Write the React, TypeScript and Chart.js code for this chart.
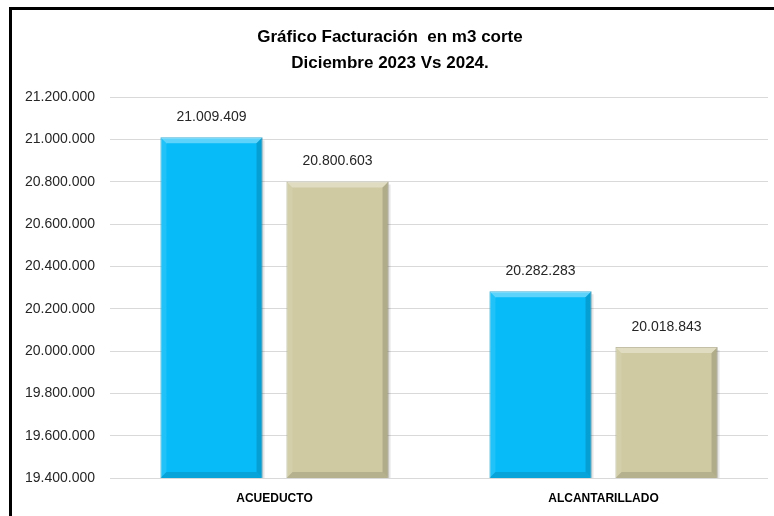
import React, { useEffect, useRef } from "react";
import { Chart, registerables } from "chart.js";

Chart.register(...registerables);

const categories = ["ACUEDUCTO", "ALCANTARILLADO"];
const series2023 = [21009409, 20282283];
const series2024 = [20800603, 20018843];
const seriesNames = ["2023", "2024"];
const titleLines = ["Gráfico Facturación  en m3 corte", "Diciembre 2023 Vs 2024."];
const yMin = 19400000;
const yMax = 21200000;
const yStep = 200000;

const fmt = (n: number) => Math.round(n).toString().replace(/\B(?=(\d{3})+(?!\d))/g, ".");

const FONT = "'Liberation Sans', Arial, sans-serif";

const framePlugin = {
  id: "frame",
  beforeDraw(chart: any) {
    const { ctx, width, height } = chart;
    ctx.save();
    ctx.fillStyle = "#ffffff";
    ctx.fillRect(0, 0, width, height);
    ctx.fillStyle = "#000000";
    ctx.fillRect(9, 7, width - 9, 3);
    ctx.fillRect(9, 7, 3, height - 7);
    ctx.restore();
  },
};

const bevelPlugin = {
  id: "bevel",
  afterDatasetsDraw(chart: any) {
    const { ctx, chartArea } = chart;
    chart.data.datasets.forEach((ds: any, di: number) => {
      const meta = chart.getDatasetMeta(di);
      meta.data.forEach((bar: any) => {
        const { x, y, width } = bar.getProps(["x", "y", "width"], true);
        const l = x - width / 2;
        const r = x + width / 2;
        const t = y;
        const b = chartArea.bottom;
        const s = 6;
        ctx.save();
        ctx.beginPath();
        ctx.moveTo(l, t);
        ctx.lineTo(r, t);
        ctx.lineTo(r - s, t + s);
        ctx.lineTo(l + s, t + s);
        ctx.closePath();
        ctx.fillStyle = "rgba(255,255,255,0.35)";
        ctx.fill();
        ctx.beginPath();
        ctx.moveTo(l, t);
        ctx.lineTo(l + s, t + s);
        ctx.lineTo(l + s, b - s);
        ctx.lineTo(l, b);
        ctx.closePath();
        ctx.fillStyle = "rgba(255,255,255,0.10)";
        ctx.fill();
        ctx.beginPath();
        ctx.moveTo(r, t);
        ctx.lineTo(r, b);
        ctx.lineTo(r - s, b - s);
        ctx.lineTo(r - s, t + s);
        ctx.closePath();
        ctx.fillStyle = "rgba(0,0,0,0.15)";
        ctx.fill();
        ctx.beginPath();
        ctx.moveTo(l, b);
        ctx.lineTo(r, b);
        ctx.lineTo(r - s, b - s);
        ctx.lineTo(l + s, b - s);
        ctx.closePath();
        ctx.fillStyle = "rgba(0,0,0,0.12)";
        ctx.fill();
        ctx.fillStyle = "rgba(0,0,0,0.10)";
        ctx.fillRect(r, t + 3, 2, b - t - 3);
        ctx.restore();
      });
    });
  },
  afterDraw(chart: any) {
    const { ctx } = chart;
    ctx.save();
    ctx.font = `14px ${FONT}`;
    ctx.fillStyle = "#262626";
    ctx.textAlign = "center";
    ctx.textBaseline = "bottom";
    chart.data.datasets.forEach((ds: any, di: number) => {
      const meta = chart.getDatasetMeta(di);
      meta.data.forEach((bar: any, i: number) => {
        ctx.fillText(fmt(ds.data[i]), bar.x, bar.y - 13);
      });
    });
    ctx.restore();
  },
};

export default function App() {
  const ref = useRef<HTMLCanvasElement>(null);
  useEffect(() => {
    if (!ref.current) return;
    const chart = new Chart(ref.current, {
      type: "bar",
      data: {
        labels: categories,
        datasets: [
          {
            label: seriesNames[0],
            data: series2023,
            backgroundColor: "#07BBF8",
            borderColor: "#0399C9",
            borderWidth: 1,
            categoryPercentage: 0.766,
            barPercentage: 0.81,
          },
          {
            label: seriesNames[1],
            data: series2024,
            backgroundColor: "#CFCAA2",
            borderColor: "#A39E78",
            borderWidth: 1,
            categoryPercentage: 0.766,
            barPercentage: 0.81,
          },
        ],
      },
      plugins: [framePlugin, bevelPlugin],
      options: {
        responsive: false,
        animation: false,
        devicePixelRatio: 1,
        layout: { padding: { left: 12, right: 6, top: 0, bottom: 0 } },
        plugins: {
          legend: { display: false },
          tooltip: { enabled: false },
          title: {
            display: true,
            text: titleLines,
            color: "#000000",
            font: { family: FONT, size: 17, weight: "bold", lineHeight: 1.5 },
            padding: { top: 25, bottom: 21 },
          },
        },
        scales: {
          x: {
            afterFit: (scale: any) => {
              scale.height = 38;
            },
            grid: { display: false, drawTicks: false },
            border: { display: false },
            ticks: {
              color: "#000000",
              font: { family: FONT, size: 12, weight: "bold" },
              padding: 13,
            },
          },
          y: {
            min: yMin,
            max: yMax,
            afterFit: (scale: any) => {
              scale.width = 98;
            },
            grid: { color: "#d9d9d9", drawTicks: false, lineWidth: 1 },
            border: { display: false },
            ticks: {
              stepSize: yStep,
              color: "#262626",
              font: { family: FONT, size: 14 },
              padding: 15,
              callback: (v: any) => fmt(Number(v)),
            },
          },
        },
      },
    });
    return () => chart.destroy();
  }, []);
  return (
    <div style={{ position: "absolute", left: 0, top: 0, width: 774, height: 516 }}>
      <canvas ref={ref} width={774} height={516} style={{ display: "block" }} />
    </div>
  );
}
